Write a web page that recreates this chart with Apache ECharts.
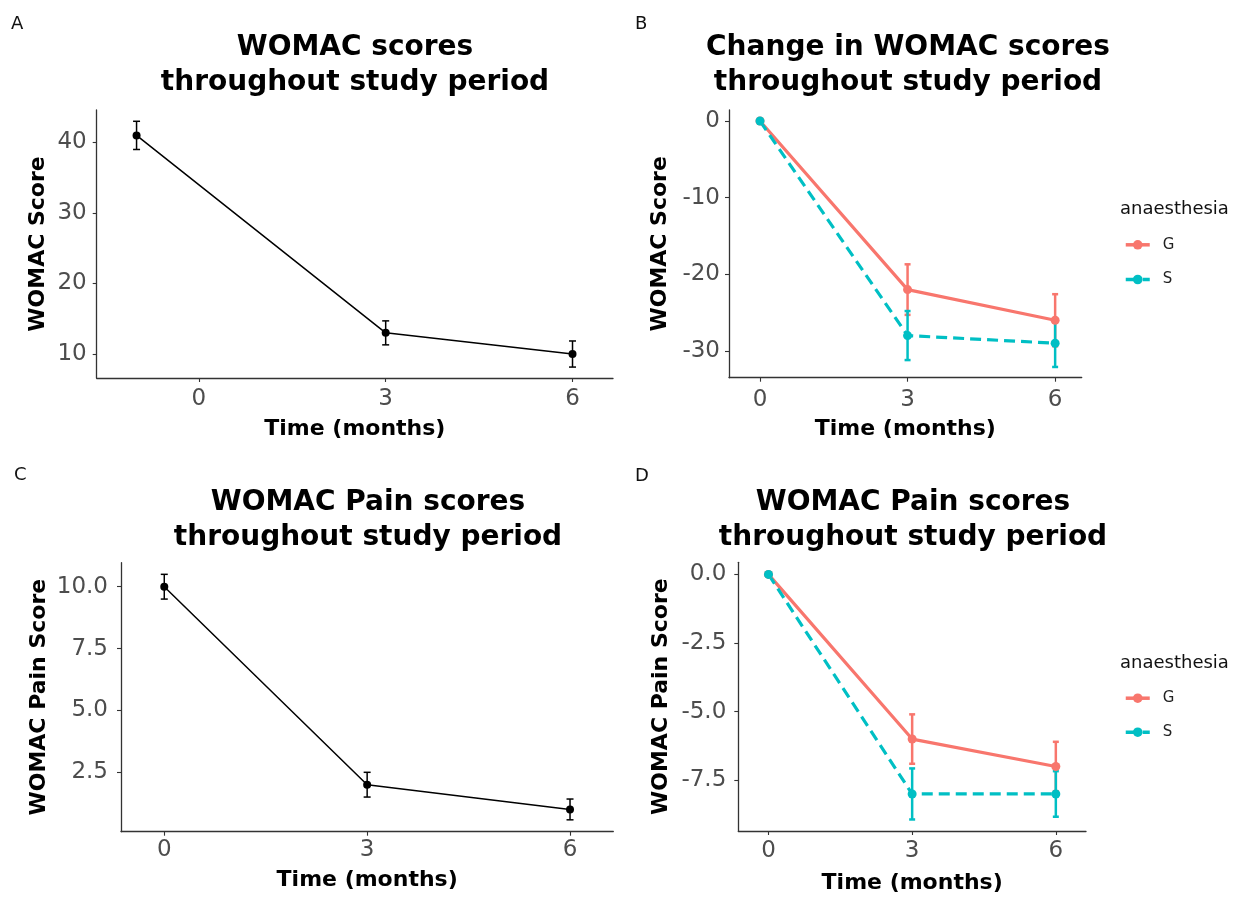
<!DOCTYPE html>
<html><head><meta charset="utf-8">
<script src="https://cdn.jsdelivr.net/npm/echarts@6/dist/echarts.min.js"></script>
<style>html,body{margin:0;padding:0;background:#fff}#c{width:1240px;height:897px}</style>
</head><body><div id="c"></div>
<script>
// ---- data ----
const timeA = [-1, 3, 6];
const time = [0, 3, 6];
const womacScore = [41, 13, 10];
const womacErr = [2.0, 1.7, 1.85];
const changeG = [0, -22, -26];
const changeGErr = [0, 3.3, 3.4];
const changeS = [0, -28, -29];
const changeSErr = [0, 3.2, 3.1];
const painScore = [10, 2, 1];
const painErr = [0.5, 0.5, 0.42];
const painChangeG = [0, -6, -7];
const painChangeGErr = [0, 0.9, 0.9];
const painChangeS = [0, -8, -8];
const painChangeSErr = [0, 0.93, 0.83];
const xTicks = [0, 3, 6];
const yTicksA = [10, 20, 30, 40];
const yTicksB = [-30, -20, -10, 0];
const yTicksC = [2.5, 5, 7.5, 10];
const yTicksD = [-7.5, -5, -2.5, 0];
const groups = ['G', 'S'];
const panelTitles = ['WOMAC scores\nthroughout study period', 'Change in WOMAC scores\nthroughout study period',
  'WOMAC Pain scores\nthroughout study period', 'WOMAC Pain scores\nthroughout study period'];
const panelLetters = ['A', 'B', 'C', 'D'];
const xName = 'Time (months)';
const yNames = ['WOMAC Score', 'WOMAC Score', 'WOMAC Pain Score', 'WOMAC Pain Score'];
const legendTitle = 'anaesthesia';

// ---- styling ----
const FONT = 'DejaVu Sans';
const colG = '#F8766D', colS = '#00BFC4';
const chart = echarts.init(document.getElementById('c'), null, {renderer: 'canvas'});

const grids = [
  {left: 96.7, top: 110, width: 516.3, height: 268},
  {left: 729, top: 110, width: 352.7, height: 267.7},
  {left: 121, top: 562.7, width: 492.3, height: 269},
  {left: 738.3, top: 562.3, width: 347.7, height: 268.7}
].map(g => Object.assign({containLabel: false, outerBoundsMode: 'none'}, g));

const xRanges = [[-1.64, 6.65], [-0.63, 6.54], [-0.64, 6.64], [-0.63, 6.63]];
const yRanges = [[6.6, 44.6], [-33.5, 1.44], [0.1, 10.97], [-9.35, 0.44]];
const yTicks = [yTicksA, yTicksB, yTicksC, yTicksD];
const yMargins = [10, 9, 13, 12];
const yGaps = [47, 58, 71, 66];
const xMargins = [10, 11, 7, 9];
const xGaps = [40.5, 41, 38, 41];
const yFmt = [v => String(v), v => String(v), v => v.toFixed(1), v => v.toFixed(1)];

const axisLine = {show: true, onZero: false, lineStyle: {color: '#333', width: 1.3}};
const axisTick = vals => ({show: true, length: 4, lineStyle: {color: '#333', width: 1.1}, customValues: vals});

const xAxis = xRanges.map((r, i) => ({
  type: 'value', gridIndex: i, min: r[0], max: r[1], position: 'bottom',
  axisLine, axisTick: axisTick(xTicks), splitLine: {show: false},
  axisLabel: {customValues: xTicks, margin: xMargins[i], fontFamily: FONT, fontSize: 23, color: '#4D4D4D'},
  name: xName, nameLocation: 'middle', nameGap: xGaps[i],
  nameTextStyle: {fontFamily: FONT, fontSize: 22, fontWeight: 'bold', color: '#000', lineHeight: 22}
}));
const yAxis = yRanges.map((r, i) => ({
  type: 'value', gridIndex: i, min: r[0], max: r[1], position: 'left',
  axisLine, axisTick: axisTick(yTicks[i]), splitLine: {show: false},
  axisLabel: {customValues: yTicks[i], margin: yMargins[i], fontFamily: FONT, fontSize: 23, color: '#4D4D4D', formatter: yFmt[i]},
  name: yNames[i], nameLocation: 'middle', nameGap: yGaps[i],
  nameTextStyle: {fontFamily: FONT, fontSize: 22, fontWeight: 'bold', color: '#000', lineHeight: 22}
}));

function errSeries(idx, xs, ys, errs, color, capW, lw) {
  return {
    type: 'custom', xAxisIndex: idx, yAxisIndex: idx, z: 2, silent: true,
    data: xs.map((x, i) => [x, ys[i] - errs[i], ys[i] + errs[i]]),
    encode: {x: 0, y: [1, 2]},
    renderItem: function (params, api) {
      const x = api.value(0), lo = api.value(1), hi = api.value(2);
      const a = api.coord([x, lo]), b = api.coord([x, hi]);
      const st = {stroke: color, lineWidth: lw};
      return {type: 'group', children: [
        {type: 'line', shape: {x1: a[0], y1: a[1], x2: b[0], y2: b[1]}, style: st},
        {type: 'line', shape: {x1: a[0] - capW, y1: a[1], x2: a[0] + capW, y2: a[1]}, style: st},
        {type: 'line', shape: {x1: b[0] - capW, y1: b[1], x2: b[0] + capW, y2: b[1]}, style: st}
      ]};
    }
  };
}
function lineSeries(idx, name, xs, ys, color, width, dash, size) {
  return {
    type: 'line', name: name, xAxisIndex: idx, yAxisIndex: idx, z: 3, silent: true,
    data: xs.map((x, i) => [x, ys[i]]),
    symbol: 'circle', symbolSize: size, showSymbol: true,
    lineStyle: {color: color, width: width, type: dash || 'solid'},
    itemStyle: {color: color}, emphasis: {disabled: true}
  };
}

const series = [
  errSeries(0, timeA, womacScore, womacErr, '#000', 3.5, 1.5),
  lineSeries(0, 'womac', timeA, womacScore, '#000', 1.5, null, 8),
  errSeries(1, time, changeG, changeGErr, colG, 3, 2.5),
  errSeries(1, time, changeS, changeSErr, colS, 3, 2.5),
  lineSeries(1, groups[0], time, changeG, colG, 3.2, null, 9),
  lineSeries(1, groups[1], time, changeS, colS, 3.2, [11, 6], 9),
  errSeries(2, time, painScore, painErr, '#000', 3.5, 1.5),
  lineSeries(2, 'pain', time, painScore, '#000', 1.5, null, 8),
  errSeries(3, time, painChangeG, painChangeGErr, colG, 3, 2.5),
  errSeries(3, time, painChangeS, painChangeSErr, colS, 3, 2.5),
  lineSeries(3, groups[0], time, painChangeG, colG, 3.2, null, 9),
  lineSeries(3, groups[1], time, painChangeS, colS, 3.2, [11, 6], 9)
];

const titleCenters = [[355, 30.5], [908, 30.5], [368, 485.5], [913, 485.5]];
const letterPos = [[11, 15], [635, 15], [14, 466], [635, 467]];
const titles = [];
panelTitles.forEach((t, i) => titles.push({
  text: t, left: titleCenters[i][0], top: titleCenters[i][1], textAlign: 'center', padding: 0,
  textStyle: {fontFamily: FONT, fontSize: 28, fontWeight: 'bold', color: '#000', lineHeight: 34.5}
}));
panelLetters.forEach((t, i) => titles.push({
  text: t, left: letterPos[i][0], top: letterPos[i][1], padding: 0,
  textStyle: {fontFamily: FONT, fontSize: 18, fontWeight: 'normal', color: '#111', lineHeight: 18}
}));
[[1120, 200], [1120, 654]].forEach(p => titles.push({
  text: legendTitle, left: p[0], top: p[1], padding: 0,
  textStyle: {fontFamily: FONT, fontSize: 18, fontWeight: 'normal', color: '#111', lineHeight: 18}
}));

const legendBase = {
  data: groups, orient: 'vertical', left: 1124, itemWidth: 24, itemHeight: 12, padding: 0,
  selectedMode: false,
  lineStyle: {width: 3.5},
  textStyle: {fontFamily: FONT, fontSize: 15, color: '#222', lineHeight: 12, padding: [0, 0, 0, 8]}
};
const legend = [
  Object.assign({}, legendBase, {top: 237.3, itemGap: 19.7}),
  Object.assign({}, legendBase, {top: 690.7, itemGap: 19})
];

chart.setOption({
  animation: false,
  backgroundColor: '#fff',
  textStyle: {fontFamily: FONT},
  title: titles,
  legend: legend,
  grid: grids,
  xAxis: xAxis,
  yAxis: yAxis,
  series: series
});
</script>
</body></html>
